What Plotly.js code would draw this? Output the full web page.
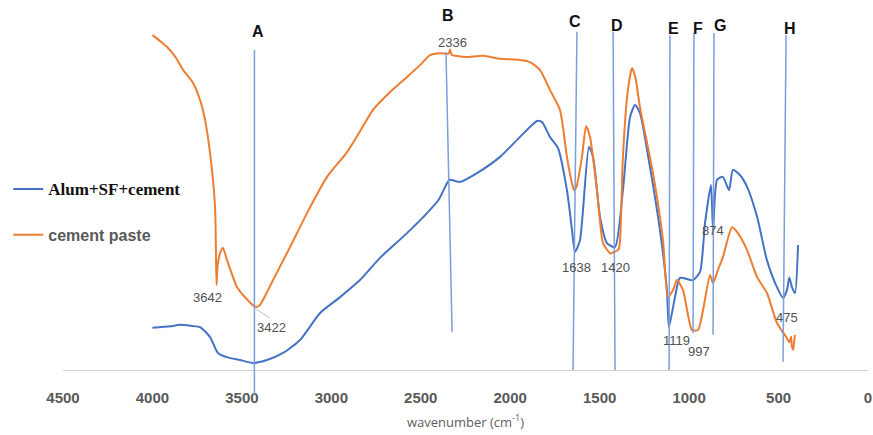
<!DOCTYPE html>
<html>
<head>
<meta charset="utf-8">
<script src="https://cdn.plot.ly/plotly-3.0.1.min.js"></script>
<style>html,body{margin:0;padding:0;background:#fff}#chart{width:873px;height:435px}</style>
</head>
<body>
<div id="chart"></div>
<script>
// ---- data (wavenumber cm-1, transmittance a.u.) ----
const wnPaste = [4000,3960,3918,3870,3829,3773,3734,3706,3678,3650,3642,3636,3622,3606,3583,3527,3470,3422,3399,3360,3326,3231,3136,3024,2912,2840,2767,2670,2577,2500,2448,2390,2345,2336,2328,2290,2242,2150,2057,1945,1889,1834,1778,1722,1683,1655,1643,1630,1599,1576,1554,1515,1481,1440,1420,1395,1386,1370,1342,1319,1300,1275,1202,1146,1118,1090,1068,1034,984,950,922,883,866,839,811,760,727,676,620,565,509,453,440,430,425,418,412,408];
const tPaste  = [90.5,89.0,87.3,84.5,81.1,77.6,73.0,67.6,58.6,44.1,23.0,28.0,31.6,33.0,29.7,22.4,19.0,17.0,17.6,21.0,24.3,33.2,42.4,52.2,58.9,64.5,70.3,75.2,79.2,82.6,85.1,85.6,85.5,86.6,85.2,84.8,84.6,84.9,84.1,83.8,83.2,81.1,75.7,70.3,57.6,50.5,48.6,49.5,57.6,65.9,63.0,48.6,34.3,31.5,31.9,32.5,35.1,57.6,75.7,81.6,79.0,71.1,53.2,35.1,19.7,21.6,24.3,21.6,10.8,10.8,16.2,25.7,23.5,27.0,30.5,38.6,37.0,32.4,25.1,20.8,12.7,8.6,7.5,9.0,6.2,5.5,8.0,9.5];

const wnAlum = [4000,3900,3846,3780,3734,3678,3634,3580,3511,3438,3360,3270,3175,3063,2951,2840,2728,2577,2465,2400,2353,2337,2281,2186,2057,1945,1850,1822,1778,1733,1683,1655,1638,1610,1560,1537,1498,1459,1414,1370,1330,1302,1275,1219,1163,1124,1113,1079,1051,978,939,911,878,866,844,811,777,755,716,676,620,565,509,475,453,440,425,408,391];
const tAlum  = [11.4,11.8,12.2,11.9,11.6,8.9,4.6,3.4,2.7,1.9,2.7,4.6,8.1,15.4,19.7,24.3,30.3,37.0,42.4,46.0,50.5,51.4,50.8,53.2,57.6,63.0,67.3,67.0,63.0,60.0,48.6,38.0,31.9,35.1,60.3,57.6,41.4,34.3,33.2,48.6,68.4,71.6,69.5,54.9,37.8,21.6,11.6,19.7,24.9,24.3,26.5,39.7,50.0,37.8,51.4,52.2,48.6,54.1,52.7,49.5,41.4,29.7,22.4,19.5,21.6,25.0,22.4,20.8,33.8];

const seriesNames = ['Alum+SF+cement', 'cement paste'];
const tickVals = [4500,4000,3500,3000,2500,2000,1500,1000,500,0];
const tickText = ['4500','4000','3500','3000','2500','2000','1500','1000','500','0'];

// band markers: letter, label wavenumber text
const bandLetters = ['A','B','C','D','E','F','G','H'];
const peakLabels = ['3642','3422','2336','1638','1420','1119','997','874','475'];

// ---- layout helpers (positions) ----
const lineX = [[3430,3430],[2359,2325],[1627,1649],[1425,1414],[1107,1112],[973,978],[861,866],[458,475]];
const lineY = [[0.865,-0.068],[0.859,0.103],[0.914,0.0],[0.914,0.0],[0.905,0.0],[0.911,0.10],[0.911,0.095],[0.905,0.022]];
const letterPos = [[3410,91.4],[2348,95.7],[1638,94.1],[1403,93.0],[1090,92.2],[950,92.4],[827,93.0],[436,92.2]];
const peakPos = [[3695,19.5],[3332,11.4],[2325,88.6],[1632,27.8],[1409,27.8],[1068,8.1],[945,4.9],[866,37.8],[453,14.3]];

const shapes = bandLetters.map((l,i)=>({
  type:'line', xref:'x', yref:'paper',
  x0:lineX[i][0], x1:lineX[i][1], y0:lineY[i][0], y1:lineY[i][1],
  line:{color:'#7a9fdc', width:1.5}, layer:'above'
}));
shapes.push({type:'line', xref:'x', yref:'paper', x0:3438, x1:3343, y0:0.17, y1:0.14, line:{color:'#c0c0c0', width:1}});

const annotations = [];
bandLetters.forEach((l,i)=>annotations.push({
  x:letterPos[i][0], y:letterPos[i][1], xref:'x', yref:'y', text:'<b>'+l+'</b>', showarrow:false,
  font:{family:'Liberation Sans, Arial, sans-serif', size:16, color:'#111'}
}));
peakLabels.forEach((t,i)=>annotations.push({
  x:peakPos[i][0], y:peakPos[i][1], xref:'x', yref:'y', text:t, showarrow:false,
  font:{family:'Liberation Sans, Arial, sans-serif', size:13, color:'#505050'}
}));

const traces = [
  {x:wnAlum, y:tAlum, type:'scatter', mode:'lines', name:'<span style="font-family:Liberation Serif;font-size:17px;color:#111"><b>'+seriesNames[0]+'</b></span>',
   line:{color:'#4472C4', width:2, shape:'spline', smoothing:0.6}, legendgroup:'a'},
  {x:wnPaste, y:tPaste, type:'scatter', mode:'lines', name:'<b>'+seriesNames[1]+'</b>',
   line:{color:'#ED7D31', width:2, shape:'spline', smoothing:0.6}, legendgroup:'b'}
];

const layout = {
  width:873, height:435,
  margin:{l:63, r:5, t:0, b:65},
  paper_bgcolor:'#fff', plot_bgcolor:'#fff',
  showlegend:true,
  legend:{x:-0.068, y:0.535, xanchor:'left', yanchor:'top', traceorder:'grouped', tracegroupgap:22,
          font:{family:'Liberation Sans, Arial, sans-serif', size:16, color:'#595959'}, bgcolor:'rgba(0,0,0,0)'},
  xaxis:{range:[4500,0], tickvals:tickVals, ticktext:tickText, showgrid:false, zeroline:false,
         showline:true, linecolor:'#d0d0d0', linewidth:1, ticks:'', ticklabelstandoff:14,
         tickfont:{family:'Liberation Sans, Arial, sans-serif', size:15, color:'#595959', weight:'bold'},
         title:{text:'wavenumber (cm<sup>-1</sup>)', standoff:12, font:{family:'Open Sans, sans-serif', size:13, color:'#606060'}}},
  yaxis:{range:[0,100], visible:false, showgrid:false, zeroline:false},
  shapes:shapes, annotations:annotations
};

Plotly.newPlot('chart', traces, layout, {staticPlot:true});
</script>
</body>
</html>
